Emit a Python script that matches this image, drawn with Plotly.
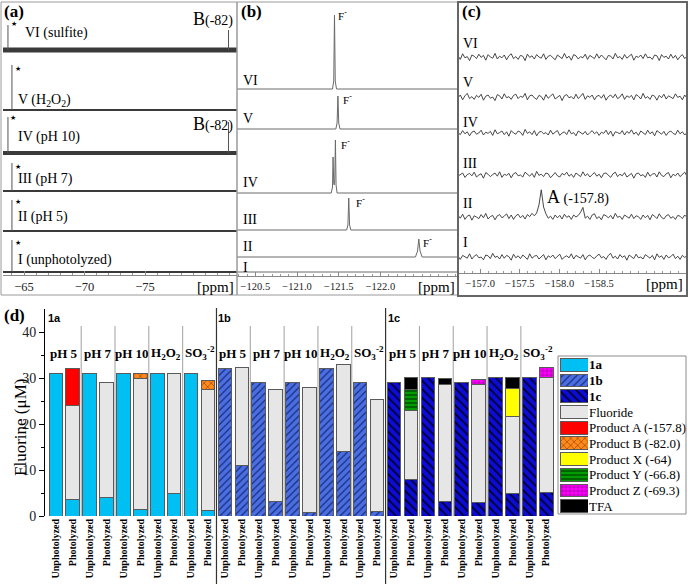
import numpy as np
import plotly.graph_objects as go

# ======================= DATA =======================
# Panel (a): 19F NMR, -63 ... -83 ppm window (intensities in px of the printed figure)
a_names = ["VI (sulfite)", "V (H<sub>2</sub>O<sub>2</sub>)", "IV (pH 10)",
           "III (pH 7)", "II (pH 5)", "I (unphotolyzed)"]
a_ref_ppm = [-63.67, -64.0, -63.67, -64.0, -64.0, -64.0]   # starred peak
a_ref_int = [25, 45, 36, 28, 31, 32]
a_B_ppm = [-81.9, None, -81.9, None, None, None]           # product B (-82)
a_B_int = [20, None, 31, None, None, None]

# Panel (b): fluoride region
b_names = ["VI", "V", "IV", "III", "II", "I"]
b_VI_ppm = [-120.28, -121.425, -121.44, -121.449, -121.458, -121.473, -122.93]
b_VI_int = [0, 0, 8, 74, 8, 0, 0]
b_V_ppm = [-120.28, -121.465, -121.48, -121.49, -121.50, -121.515, -122.93]
b_V_int = [0, 0, 6, 33, 6, 0, 0]
b_IV_ppm = [-120.28, -121.41, -121.425, -121.432, -121.44, -121.446, -121.452,
            -121.46, -121.468, -121.48, -122.93]
b_IV_int = [0, 0, 6, 36, 10, 8, 12, 53, 8, 0, 0]
b_III_ppm = [-120.28, -121.595, -121.61, -121.62, -121.63, -121.645, -122.93]
b_III_int = [0, 0, 5, 32, 5, 0, 0]
b_II_ppm = [-120.28, -122.42, -122.445, -122.46, -122.475, -122.50, -122.93]
b_II_int = [0, 0, 6, 18, 6, 0, 0]
b_I_ppm = [-120.28, -122.93]
b_I_int = [0, 0]

# Panel (c): -156.7 ... -159.6 ppm window, read-off trace values (relative units)
c_names = ["VI", "V", "IV", "III", "II", "I"]
c_VI = [0.3,-0.6,0.8,-0.2,0.1,-0.9,0.5,0.2,-0.4,0.7,
        -0.1,0.4,-0.8,0.6,0.0,-0.3,0.9,-0.5,0.2,-0.2,
        0.5,-0.7,0.3,0.8,-0.4,0.1,-0.6,0.4,0.2,-0.9,
        0.7,-0.1,0.3,-0.5,0.6,0.0,-0.3,0.8,-0.6,0.2,
        0.4,-0.2,-0.7,0.5,0.1,-0.4,0.9,-0.3,0.2,-0.8,
        0.6,0.3,-0.5,0.1,-0.2,0.7,-0.6,0.4,0.0,-0.4,
        0.8,-0.3,0.5,-0.1,-0.7,0.4,0.2,-0.5,0.9,-0.2,
        0.1,-0.6,0.6,-0.3,0.3,0.7,-0.8,0.2,-0.1,0.5,
        -0.4,0.8,-0.2,0.0,-0.6,0.5,0.3,-0.9,0.6,-0.1,
        0.2,-0.5,0.7,-0.3,0.4,-0.7,0.1,0.6,-0.4,0.2]
c_V = [-0.2,0.5,-0.7,0.3,0.9,-0.4,0.1,-0.6,0.4,-0.1,
       0.7,-0.8,0.2,0.5,-0.3,0.0,-0.9,0.6,0.3,-0.5,
       0.8,-0.2,0.1,-0.6,0.4,0.7,-0.4,0.2,-0.1,0.9,
       -0.7,0.3,0.5,-0.2,-0.6,0.4,0.1,-0.8,0.6,-0.3,
       0.2,0.8,-0.5,0.0,0.4,-0.9,0.3,0.6,-0.2,0.1,
       -0.5,0.7,-0.4,0.2,0.9,-0.6,0.3,-0.1,0.5,-0.7,
       0.2,0.4,-0.3,0.6,-0.8,0.1,0.5,-0.2,0.7,-0.4,
       0.0,0.8,-0.6,0.3,-0.1,0.4,-0.7,0.6,0.2,-0.5,
       0.9,-0.3,0.1,-0.6,0.5,0.2,-0.8,0.4,-0.2,0.7,
       -0.5,0.3,0.0,-0.4,0.8,-0.1,0.2,-0.7,0.5,-0.3]
c_IV = [0.1,-0.4,0.6,-0.2,0.3,-0.7,0.2,0.5,-0.3,0.0,
        0.7,-0.5,0.2,-0.1,0.4,-0.6,0.8,-0.2,0.1,0.5,
        -0.4,0.3,-0.8,0.6,0.0,-0.3,0.5,0.2,-0.6,0.9,
        -0.1,0.3,-0.4,0.6,-0.7,0.2,0.4,-0.2,0.1,-0.5,
        0.7,-0.3,0.2,0.6,-0.6,0.0,0.3,-0.4,0.8,-0.2,
        0.1,-0.7,0.5,0.2,-0.3,0.4,-0.5,0.1,0.6,-0.2,
        0.3,-0.6,0.2,-0.1,0.7,-0.4,0.5,-0.8,0.3,0.1,
        -0.2,0.6,-0.5,0.4,-0.1,0.8,-0.3,0.2,-0.6,0.5,
        0.0,-0.4,0.7,-0.2,0.3,-0.7,0.6,0.1,-0.3,0.4,
        -0.6,0.2,0.5,-0.1,-0.4,0.7,-0.2,0.3,-0.5,0.1]
c_III = [-0.3,0.2,0.5,-0.6,0.1,0.4,-0.2,0.7,-0.5,0.0,
         0.3,-0.8,0.6,0.2,-0.4,0.1,0.5,-0.3,0.8,-0.6,
         0.2,-0.1,0.4,-0.7,0.3,0.6,-0.2,0.0,-0.5,0.7,
         0.1,-0.3,0.4,-0.6,0.9,-0.1,0.2,-0.4,0.5,0.3,
         -0.7,0.1,0.6,-0.2,-0.5,0.4,0.0,0.7,-0.3,0.2,
         -0.6,0.5,0.1,-0.4,0.8,-0.2,0.3,-0.5,0.1,0.6,
         -0.3,0.2,-0.7,0.4,0.5,-0.1,-0.6,0.3,0.7,-0.4,
         0.2,-0.2,0.6,-0.5,0.0,0.4,-0.8,0.3,0.5,-0.2,
         0.1,-0.6,0.7,-0.3,0.2,0.4,-0.5,0.8,-0.1,-0.4,
         0.3,0.6,-0.7,0.2,-0.2,0.5,-0.4,0.1,0.7,-0.3]
c_II = [0.4,-0.3,0.7,-0.6,0.2,0.5,-0.8,0.3,0.0,-0.4,
        0.6,-0.2,0.9,-0.5,0.1,0.4,-0.7,0.3,0.6,-0.2,
        0.2,0.8,-0.4,0.5,-0.6,0.3,0.7,-0.2,0.4,-0.5,
        0.6,0.1,0.9,0.3,1.0,3.0,6.8,2.5,0.8,-0.3,
        0.2,-0.6,0.5,-0.2,0.4,-0.5,0.7,-0.1,0.3,-0.6,
        0.5,0.0,0.4,1.2,2.4,-0.3,0.2,-0.6,0.5,0.8,
        -0.4,0.1,-0.7,0.6,0.3,-0.2,0.4,-0.5,0.9,-0.1,
        0.2,-0.6,0.5,0.0,-0.3,0.7,-0.4,0.3,0.1,-0.6,
        0.5,-0.2,0.4,-0.7,0.6,0.2,-0.4,0.8,-0.1,-0.5,
        0.3,0.6,-0.3,0.1,-0.6,0.4,0.2,-0.4,0.5,-0.1]
c_I = [0.2,-0.6,0.4,0.1,-0.3,0.8,-0.5,0.2,0.6,-0.2,
       0.0,-0.7,0.5,0.3,-0.4,0.9,-0.1,0.2,-0.5,0.6,
       -0.3,0.4,0.1,-0.8,0.7,-0.2,0.3,-0.4,0.5,0.0,
       -0.6,0.8,-0.3,0.2,0.4,-0.5,0.1,0.6,-0.7,0.3,
       -0.1,0.5,-0.4,0.2,0.7,-0.6,0.0,0.3,-0.2,0.8,
       -0.5,0.4,0.1,-0.3,0.6,-0.7,0.2,0.5,-0.1,-0.4,
       0.3,0.7,-0.2,0.1,-0.6,0.4,0.9,-0.3,0.2,-0.5,
       0.6,-0.1,0.3,-0.8,0.5,0.1,-0.4,0.7,-0.2,0.0,
       -0.5,0.6,0.2,-0.3,0.4,-0.7,0.8,-0.1,0.3,-0.6,
       0.5,-0.2,0.1,0.7,-0.4,0.2,-0.6,0.4,-0.1,0.3]

# Panel (d): fluorine mass balance (µM)
compounds = ["1a", "1b", "1c"]
conditions = ["pH 5", "pH 7", "pH 10", "H<sub>2</sub>O<sub>2</sub>", "SO<sub>3</sub><sup>-2</sup>"]
states = ["Unphotolyzed", "Photolyzed"]
N = None
s_1a = [31.0, 3.5, 31.0, 4.0, 31.0, 1.5, 31.0, 5.0, 31.0, 1.3] + [N] * 20
s_1b = [N] * 10 + [32.0, 11.0, 29.1, 3.1, 29.1, 0.8, 32.0, 14.0, 29.1, 1.0] + [N] * 10
s_1c = [N] * 20 + [29.0, 8.0, 30.1, 3.1, 29.0, 3.0, 30.1, 4.9, 30.1, 5.1]
s_fluoride = [N, 20.5, N, 25.1, N, 28.4, N, 26.0, N, 26.1,
              N, 21.3, N, 24.5, N, 27.2, N, 19.0, N, 24.4,
              N, 15.0, N, 25.4, N, 25.6, N, 16.8, N, 25.0]
s_prodA = [N, 8.0] + [N] * 28
s_prodB = [N] * 5 + [1.1] + [N] * 3 + [2.0] + [N] * 20
s_prodX = [N] * 27 + [6.1] + [N] * 2
s_prodY = [N] * 21 + [4.4] + [N] * 8
s_prodZ = [N] * 25 + [1.1] + [N] * 3 + [2.1]
s_tfa = [N] * 21 + [2.7] + [N] + [1.3] + [N] * 3 + [2.3] + [N] * 2

series_names = ["<b>1a</b>", "<b>1b</b>", "<b>1c</b>", "Fluoride", "Product A (-157.8)",
                "Product B (-82.0)", "Product X (-64)", "Product Y (-66.8)",
                "Product Z (-69.3)", "TFA"]
series_values = [s_1a, s_1b, s_1c, s_fluoride, s_prodA, s_prodB, s_prodX, s_prodY, s_prodZ, s_tfa]

# ======================= STYLE / LAYOUT =======================
W, H = 688, 584
def fx(x): return x / W
def fy(y): return 1 - y / H

SERIF = "Liberation Serif"
SANS = "Liberation Sans"

A_X, A_Y, A_RANGE = (3, 237), (2, 275), [-63.26, -82.6]
B_X, B_Y, B_RANGE = (237, 458), (2, 276), [-120.28, -122.93]
C_X, C_Y, C_RANGE = (458, 687), (2, 273), [-156.72, -159.61]
A_BASE = [50, 110, 153, 191, 231, 272]
A_BAND = [5.0, 2.2, 4.2, 2.2, 2.2, 2.2]
B_BASE = [89, 129, 193, 230, 257, 272]
C_BASE = [57, 97, 133, 175, 217, 257]
C_SCALE = 4.0

fig = go.Figure()

# ---- panel (a)
for i in range(6):
    off = A_Y[1] - A_BASE[i]
    fig.add_trace(go.Scatter(x=A_RANGE, y=[off, off], mode="lines",
                             line=dict(color="#3a3a3a", width=A_BAND[i]),
                             xaxis="x", yaxis="y", hoverinfo="skip"))
    px_, py_ = [a_ref_ppm[i], a_ref_ppm[i], None], [off, off + a_ref_int[i], None]
    if a_B_ppm[i] is not None:
        px_ += [a_B_ppm[i], a_B_ppm[i], None]
        py_ += [off, off + a_B_int[i], None]
    fig.add_trace(go.Scatter(x=px_, y=py_, mode="lines",
                             line=dict(color="#555", width=1), xaxis="x", yaxis="y"))

# ---- panel (b)
b_sets = [(b_VI_ppm, b_VI_int), (b_V_ppm, b_V_int), (b_IV_ppm, b_IV_int),
          (b_III_ppm, b_III_int), (b_II_ppm, b_II_int), (b_I_ppm, b_I_int)]
for i, (xx, yy) in enumerate(b_sets):
    off = B_Y[1] - B_BASE[i]
    fig.add_trace(go.Scatter(x=xx, y=[off + v for v in yy], mode="lines",
                             line=dict(color="#6a6a6a", width=1), xaxis="x2", yaxis="y2"))

# ---- panel (c)
for i, vals in enumerate([c_VI, c_V, c_IV, c_III, c_II, c_I]):
    off = C_Y[1] - C_BASE[i]
    xx = np.linspace(C_RANGE[0], C_RANGE[1], len(vals))
    fig.add_trace(go.Scatter(x=xx, y=[off + C_SCALE * v for v in vals], mode="lines",
                             line=dict(color="#333", width=0.9), xaxis="x3", yaxis="y3"))

# ---- panel (d)
styles = [
    dict(color="#00BFF3"),
    dict(color="#4A6FE3", pattern=dict(shape="/", bgcolor="#4A6FE3", fgcolor="#1B2C7A", size=5, solidity=0.25)),
    dict(color="#0C0CD4", pattern=dict(shape="\\", bgcolor="#0C0CD4", fgcolor="#00002A", size=6, solidity=0.3)),
    dict(color="#E6E6E6"),
    dict(color="#FF0000"),
    dict(color="#FF8A1C", pattern=dict(shape="x", bgcolor="#FF8A1C", fgcolor="#7A3300", size=5, solidity=0.2)),
    dict(color="#FFFF00"),
    dict(color="#009C00", pattern=dict(shape="-", bgcolor="#009C00", fgcolor="#002800", size=4, solidity=0.25)),
    dict(color="#FF00FF", pattern=dict(shape="+", bgcolor="#FF00FF", fgcolor="#6E006E", size=4, solidity=0.2)),
    dict(color="#000000"),
]
xpos = list(range(30))
for name, vals, st in zip(series_names, series_values, styles):
    fig.add_trace(go.Bar(x=xpos, y=vals, name=name, xaxis="x4", yaxis="y4",
                         marker=dict(line=dict(color="#5a5a5a", width=1), **st)))
    # legend swatch (drawn as a small bar in a legend axis)
    fig.add_trace(go.Bar(y=[name], x=[1], orientation="h", xaxis="x5", yaxis="y5", width=0.82,
                         marker=dict(line=dict(color="#5a5a5a", width=1), **st)))

ticktext = [states[k % 2] for k in range(30)]

def spec_xaxis(dom, rng, vals, fmt, fsize, minor_dt, anchor):
    return dict(domain=[fx(dom[0]), fx(dom[1])], range=rng, anchor=anchor, automargin=False,
                showline=True, linecolor="#888", linewidth=1, mirror=False,
                ticks="inside", ticklen=4, tickcolor="#888", tickvals=vals, tickformat=fmt,
                minor=dict(dtick=minor_dt, ticks="inside", ticklen=2, tickcolor="#999"),
                showgrid=False, zeroline=False,
                tickfont=dict(family=SERIF, size=fsize, color="#222"))

def spec_yaxis(dom, anchor):
    return dict(domain=[fy(dom[1]), fy(dom[0])], range=[0, dom[1] - dom[0]],
                anchor=anchor, visible=False, fixedrange=True, automargin=False)

fig.update_layout(
    template="none",
    width=W, height=H, margin=dict(l=0, r=0, t=0, b=0, pad=0, autoexpand=False),
    font=dict(family=SERIF, size=12, color="black"),
    paper_bgcolor="white", plot_bgcolor="rgba(0,0,0,0)", showlegend=False,
    barmode="stack", bargap=0.2,
    xaxis=spec_xaxis(A_X, A_RANGE, [-65, -70, -75], "d", 12.5, 1, "y"),
    yaxis=spec_yaxis(A_Y, "x"),
    xaxis2=spec_xaxis(B_X, B_RANGE, [-120.5, -121.0, -121.5, -122.0], ".1f", 10.5, 0.1, "y2"),
    yaxis2=spec_yaxis(B_Y, "x2"),
    xaxis3=spec_xaxis(C_X, C_RANGE, [-157.0, -157.5, -158.0, -158.5], ".1f", 10.5, 0.1, "y3"),
    yaxis3=spec_yaxis(C_Y, "x3"),
    xaxis4=dict(domain=[fx(45), fx(554.7)], range=[-0.64, 29.5], anchor="y4", automargin=False,
                tickvals=xpos, ticktext=ticktext, tickangle=-90, showline=False, ticks="",
                showgrid=False, zeroline=False,
                tickfont=dict(family=SERIF, size=10, color="black", weight="bold")),
    yaxis4=dict(domain=[fy(516), fy(309)], range=[0, 45], anchor="x4", automargin=False,
                showline=True, linecolor="black", linewidth=1, ticks="outside", ticklen=5,
                tickcolor="black", tickvals=[0, 10, 20, 30, 40], showgrid=False, zeroline=False,
                minor=dict(tickvals=[5, 15, 25, 35], ticks="outside", ticklen=3, tickcolor="black"),
                tickfont=dict(family=SERIF, size=14, color="#222")),
    xaxis5=dict(domain=[fx(560), fx(588)], range=[0, 1], anchor="y5", visible=False, automargin=False),
    yaxis5=dict(domain=[fy(514), fy(357)], anchor="x5", type="category", automargin=False,
                categoryorder="array", categoryarray=series_names, autorange="reversed",
                tickmode="array", tickvals=series_names, ticktext=series_names,
                side="right", showline=False, ticks="", showgrid=False, zeroline=False,
                tickfont=dict(family=SERIF, size=13, color="black")),
)

shapes = []
def frame(x0, y0, x1, y1, color, width):
    shapes.append(dict(type="rect", xref="paper", yref="paper", x0=fx(x0), x1=fx(x1),
                       y0=fy(y1), y1=fy(y0), line=dict(color=color, width=width)))
frame(1, 2, 237, 295, "#9a9a9a", 1)
frame(237, 2, 458, 295, "#9a9a9a", 1)
frame(458, 2, 687, 296, "#666", 2)
frame(558, 356, 686, 514, "#8a8a8a", 1)
for c in range(3):
    for k in range(4):
        xv = 10 * c + 2 * k + 1.5
        shapes.append(dict(type="line", xref="x4", yref="y4", x0=xv, x1=xv, y0=0, y1=41.3,
                           line=dict(color="#a0a0a0", width=1)))
for xv in (9.5, 19.5):
    shapes.append(dict(type="line", xref="x4", yref="paper", x0=xv, x1=xv,
                       y0=fy(584), y1=fy(308), line=dict(color="#333", width=1.2)))
fig.update_layout(shapes=shapes)

ann = []
def txt(t, x, y, size, anchor="left", family=SERIF, color="black", xref="paper", angle=0):
    ann.append(dict(text=t, x=(fx(x) if xref == "paper" else x), y=fy(y), xref=xref, yref="paper",
                    xanchor=anchor, yanchor="middle", showarrow=False, textangle=angle,
                    borderpad=0, font=dict(family=family, size=size, color=color)))

# panel letters
txt("<b>(a)</b>", 3, 12, 17)
txt("<b>(b)</b>", 240, 12, 17)
txt("<b>(c)</b>", 461, 12, 17)
txt("<b>(d)</b>", 3, 315, 17)
# [ppm]
txt("[ppm]", 235, 287, 15, "right")
txt("[ppm]", 456, 287, 15, "right")
txt("[ppm]", 684, 284, 15, "right")

# panel (a) labels
a_lab_pos = [(24, 33), (17, 100), (17, 137), (17, 179), (17, 217), (17, 260)]
for name, (x, y) in zip(a_names, a_lab_pos):
    txt(name, x, y, 14)
a_star_pos = [(14, 24), (18, 69), (13, 118), (18, 167), (18, 202), (18, 243)]
for (x, y) in a_star_pos:
    txt("★", x, y, 7, "center")
for y in (19, 124):
    txt("<span style='font-size:18px'>B</span>(-82)", 234, y, 14, "right")

# panel (b) labels
b_lab_pos = [80, 118, 182, 220, 246, 267]
for name, y in zip(b_names, b_lab_pos):
    txt(name, 242, y, 14)
for (x, y) in [(337, 15), (342, 99), (340, 144), (355, 202), (422, 242)]:
    txt("F<sup>-</sup>", x, y, 11)

# panel (c) labels
c_lab_pos = [43, 82, 122, 163, 203, 242]
for name, y in zip(c_names, c_lab_pos):
    txt(name, 462, y, 14)
txt("<span style='font-size:18px'>A</span> (-157.8)", 546, 197, 14)

# panel (d) labels
txt("Fluorine (μM)", 20, 428, 17, "center", angle=-90)
for c, (name, x) in enumerate(zip(compounds, [47, 217, 387])):
    txt("<b>" + name + "</b>", x, 318, 11, family=SANS)
    for k, cond in enumerate(conditions):
        txt("<b>" + cond + "</b>", 10 * c + 2 * k + 0.5, 353, 13, "center", xref="x4")

fig.update_layout(annotations=ann)
fig.write_html("out.html", config={"displayModeBar": False},
               post_script="document.body.style.margin='0';document.body.style.overflow='hidden';")
